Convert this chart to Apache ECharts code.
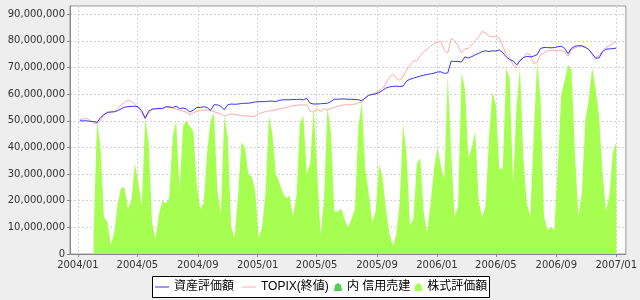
<!DOCTYPE html>
<html><head><meta charset="utf-8">
<script src="https://cdn.jsdelivr.net/npm/echarts@6/dist/echarts.min.js"></script>
<style>html,body{margin:0;padding:0;background:#eeeeee;}#c{width:640px;height:300px;}</style>
</head><body><div id="c"></div>
<script>
// weekly observation dates (Mondays) starting here
const firstDate = '2004-01-05';
const weekCount = 157;
const tickLabels = ['2004/01','2004/05','2004/09','2005/01','2005/05','2005/09','2006/01','2006/05','2006/09','2007/01'];
const yTicks = [0,10,20,30,40,50,60,70,80,90]; // millions of yen

// 資産評価額 (millions of yen)
const assetValues = [
50.0,50.0,50.0,49.8,49.7,49.4,51.2,52.3,53.2,53.3,53.4,53.8,54.5,55.1,55.3,55.4,55.5,55.2,53.8,51.0,53.6,54.4,54.5,54.6,54.6,
55.3,55.2,55.0,55.5,54.6,54.8,54.4,53.3,54.0,55.0,55.0,55.3,55.0,53.9,56.0,56.0,55.4,54.2,56.0,56.3,56.2,56.3,56.5,56.6,56.6,56.8,57.1,
57.2,57.2,57.2,57.4,57.4,57.2,57.7,57.9,57.9,57.9,58.0,58.0,58.1,57.9,58.4,56.6,56.3,56.3,56.4,56.5,56.6,57.25,58.1,58.1,58.2,58.2,
58.1,58.1,58.0,57.9,57.6,58.6,59.6,59.9,60.1,60.6,61.4,62.3,62.7,62.9,63.0,62.9,63.0,64.9,65.6,66.0,66.4,66.8,67.1,67.4,67.6,67.9,68.3,
68.4,67.8,68.0,72.4,72.3,72.3,72.1,74.0,73.6,74.1,74.8,75.3,76.0,76.3,76.0,76.3,76.2,76.6,75.6,74.0,73.0,72.5,71.0,72.5,73.7,74.2,74.0,
74.3,74.8,77.2,77.5,77.5,77.4,77.5,77.8,78.0,77.2,75.2,77.2,78.0,78.2,78.2,77.6,76.8,75.2,73.5,73.6,75.9,76.9,77.0,77.1,77.3
];
// TOPIX(終値), rebased to the asset scale (millions)
const topixValues = [
50.4,50.7,50.9,50.1,49.2,48.9,50.4,52.2,53.0,53.4,53.4,54.5,56.0,57.0,57.6,57.3,56.4,54.8,52.8,50.6,52.8,54.3,54.5,54.7,54.6,
55.3,55.2,54.8,54.4,54.0,53.7,53.2,52.2,53.0,53.5,54.0,54.0,54.0,53.8,53.4,53.0,52.6,51.8,52.2,52.6,52.4,52.2,52.0,51.8,51.8,51.6,51.8,
52.8,53.0,53.5,53.7,53.9,54.1,54.5,54.8,55.0,55.3,55.7,55.8,56.0,55.9,56.0,53.5,53.3,54.4,53.6,54.5,54.0,54.6,55.0,55.5,55.8,56.0,
56.0,56.2,56.2,56.8,57.0,58.6,59.6,59.9,60.5,61.2,62.2,64.0,66.2,67.6,66.0,65.2,66.5,69.0,71.0,72.5,72.5,74.5,76.0,76.8,78.0,79.0,79.6,
79.7,76.5,75.5,81.0,80.0,78.0,75.5,77.0,77.3,78.5,80.0,81.5,83.6,83.0,81.8,81.5,81.8,81.0,78.0,75.0,73.8,71.0,70.0,72.9,73.8,75.4,74.8,
71.5,72.0,74.8,75.5,76.3,76.4,76.5,76.3,76.5,75.8,74.2,76.8,77.4,77.9,77.8,77.5,76.8,74.8,73.8,74.5,76.2,77.5,78.2,79.0,79.8
];
// 株式評価額 (millions)
const stockValues = [
null,null,null,null,8,50,40,14,12,3.5,8,19,25,25,17,20,34,27,18,51,42,12,5.5,15,20,
19,21,44,50,24,48,50,48,46,26,17,19,38,50,53,24,15,52,44,10,6,22,42,40,30,29,24,
6,10,23,52,45,30,27,23,21,22,14,22,49,52,30,34,55,32,7,20,55,46,16,16,17,13,
10,13,17,48,57,32,23,12,16,34,29,17,8,3,7,19,49,38,11,13,34,36,16,8,19,32,40,
33,28,67,38,14,18,68,62,36,40,46,20,14,18,44,61,56,32,32,70,66,26,55,70,36,19,14,
45,72,58,14,9,10,9,33,60,65,71,69,38,14,23,50,58,70,62,52,31,16,22,38,42
];
// 内 信用売建 (no visible values)
const marginValues = [];

const DAY = 864e5;
const t0 = Date.parse(firstDate + 'T00:00:00Z');
const dates = [];
for (let i = 0; i < weekCount; i++) dates.push(t0 + i * 7 * DAY);
const tickValues = tickLabels.map(s => { const [y, m] = s.split('/').map(Number); return Date.UTC(y, m - 1, 1); });
const pair = arr => arr.map((v, i) => [dates[i], v]);

const base = Date.UTC(2004, 0, 1);
const xMin = base - 16.1 * DAY;
const xMax = base + 1115.6 * DAY;

const fmtX = v => { const d = new Date(v); return d.getUTCFullYear() + '/' + String(d.getUTCMonth() + 1).padStart(2, '0'); };
const fmtY = v => Math.round(v * 1e6).toLocaleString('en-US');

const areaIcon = 'path://M4,0 L7,2 L8,8 L0,8 L1,2 Z';
const lineIcon = 'path://M0,0 L14,0 L14,1 L0,1 Z';
const legendText = { fontSize: 12, fontFamily: "'Liberation Sans', 'Noto Sans CJK JP'", color: '#000' };
const axisFont = { fontSize: 10, fontFamily: 'DejaVu Sans', color: '#333' };

const chart = echarts.init(document.getElementById('c'), null, { renderer: 'canvas' });
chart.setOption({
  animation: false,
  backgroundColor: '#eeeeee',
  graphic: [{
    type: 'rect', z: 1, silent: true,
    shape: { x: 152.5, y: 276.5, width: 337, height: 21 },
    style: { fill: '#ffffff', stroke: '#000000', lineWidth: 1 }
  }],
  grid: { left: 70, right: 8, top: 6, bottom: 46, show: true, backgroundColor: '#ffffff', borderColor: '#999999', borderWidth: 1 },
  legend: [
    { data: [{ name: '資産評価額', icon: lineIcon }, { name: 'TOPIX(終値)', icon: lineIcon }], left: 155, top: 281, padding: 0, itemWidth: 14, itemHeight: 8, itemGap: 8, textStyle: legendText, z: 5, selectedMode: false },
    { data: [{ name: '内 信用売建', icon: areaIcon }, { name: '株式評価額', icon: areaIcon }], left: 334, top: 281, padding: 0, itemWidth: 8, itemHeight: 8, itemGap: 4, textStyle: legendText, z: 5, selectedMode: false }
  ],
  xAxis: {
    type: 'value', min: xMin, max: xMax,
    axisLine: { show: true, onZero: false, lineStyle: { color: '#888888' } },
    axisTick: { show: true, customValues: tickValues, length: 3, lineStyle: { color: '#888888' } },
    axisLabel: { customValues: tickValues, formatter: fmtX, margin: 6, ...axisFont },
    splitLine: { show: true, lineStyle: { color: '#d4d4d4', type: [2, 2] } }
  },
  yAxis: {
    type: 'value', min: 0, max: 93.1,
    axisLine: { show: true, lineStyle: { color: '#888888' } },
    axisTick: { show: true, customValues: yTicks, length: 3, lineStyle: { color: '#888888' } },
    axisLabel: { customValues: yTicks, formatter: fmtY, margin: 5, ...axisFont },
    splitLine: { show: true, lineStyle: { color: '#d4d4d4', type: [2, 2] } }
  },
  series: [
    { name: '株式評価額', type: 'line', data: pair(stockValues), symbol: 'none', color: '#a6ff50',
      lineStyle: { width: 0 }, areaStyle: { color: '#a6ff50', opacity: 1 }, z: 1 },
    { name: '内 信用売建', type: 'line', data: pair(marginValues), symbol: 'none', color: '#55cc55',
      lineStyle: { width: 0 }, areaStyle: { color: '#55cc55', opacity: 1 }, z: 1 },
    { name: 'TOPIX(終値)', type: 'line', data: pair(topixValues), symbol: 'none', color: '#ffaaaa',
      lineStyle: { width: 1, color: '#ffaaaa' }, z: 2 },
    { name: '資産評価額', type: 'line', data: pair(assetValues), symbol: 'none', color: '#3333ff',
      lineStyle: { width: 1, color: '#3333ff' }, z: 3 }
  ]
});
</script></body></html>
